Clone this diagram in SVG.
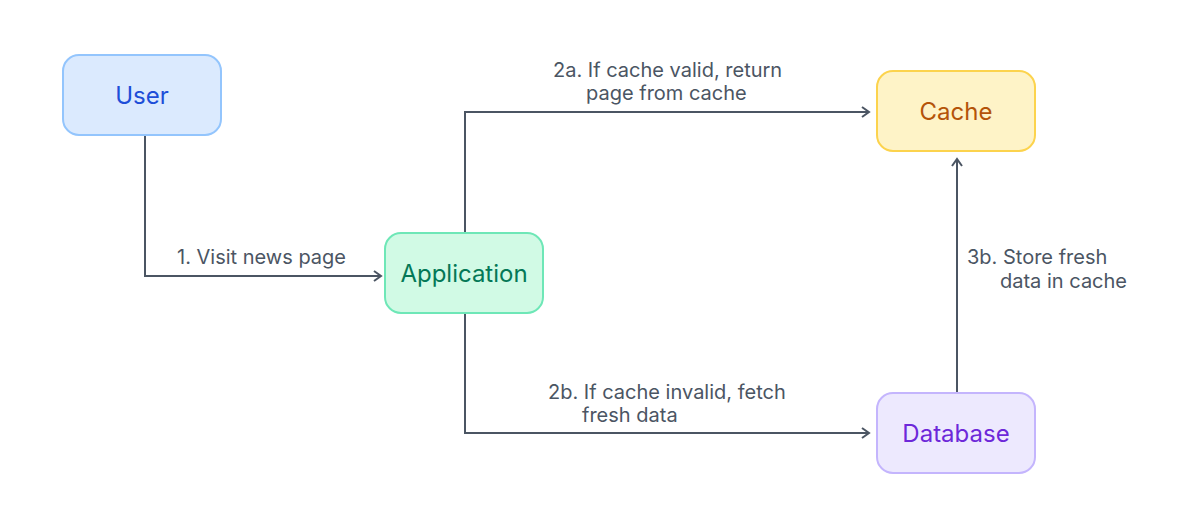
<svg xmlns="http://www.w3.org/2000/svg" width="1190" height="526" viewBox="0 0 1190 526">
<style>
.node rect{stroke-width:2}
.ntext{font-family:Inter,"Liberation Sans",sans-serif;font-size:24px;font-weight:400;text-anchor:middle}
.lbl{font-family:Inter,"Liberation Sans",sans-serif;font-size:20px;fill:#4b5563}
.conn{fill:none;stroke:#4b5563;stroke-width:2}
</style>
<defs>
<marker id="arr" markerWidth="12" markerHeight="12" refX="10" refY="6" orient="auto" markerUnits="userSpaceOnUse">
<path d="M3,1 L10,6 L3,11" fill="none" stroke="#4b5563" stroke-width="2"/>
</marker>
</defs>
<rect width="1190" height="526" fill="#ffffff"/>
<g id="connectors">
<path class="conn" d="M145,135 V276 H381" marker-end="url(#arr)"/>
<path class="conn" d="M465,232 V112 H869" marker-end="url(#arr)"/>
<path class="conn" d="M465,313 V433 H869" marker-end="url(#arr)"/>
<path class="conn" d="M957,393 V159" marker-end="url(#arr)"/>
<text class="lbl" x="177" y="264">1. Visit news page</text>
<text class="lbl" x="553" y="77">2a. If cache valid, return</text>
<text class="lbl" x="586" y="100">page from cache</text>
<text class="lbl" x="548" y="399">2b. If cache invalid, fetch</text>
<text class="lbl" x="582" y="422">fresh data</text>
<text class="lbl" x="967" y="264">3b. Store fresh</text>
<text class="lbl" x="1000" y="288">data in cache</text>
</g>
<g id="user" class="node">
<rect x="63" y="55" width="158" height="80" rx="16" fill="#dbeafe" stroke="#93c5fd"/>
<text class="ntext" x="142" y="104" fill="#1d4ed8">User</text>
</g>
<g id="application" class="node">
<rect x="385" y="233" width="158" height="80" rx="16" fill="#d1fae5" stroke="#6ee7b7"/>
<text class="ntext" x="464" y="282" fill="#047857">Application</text>
</g>
<g id="cache" class="node">
<rect x="877" y="71" width="158" height="80" rx="16" fill="#fef3c7" stroke="#fcd34d"/>
<text class="ntext" x="956" y="120" fill="#b45309">Cache</text>
</g>
<g id="database" class="node">
<rect x="877" y="393" width="158" height="80" rx="16" fill="#ede9fe" stroke="#c4b5fd"/>
<text class="ntext" x="956" y="442" fill="#6d28d9">Database</text>
</g>
</svg>
